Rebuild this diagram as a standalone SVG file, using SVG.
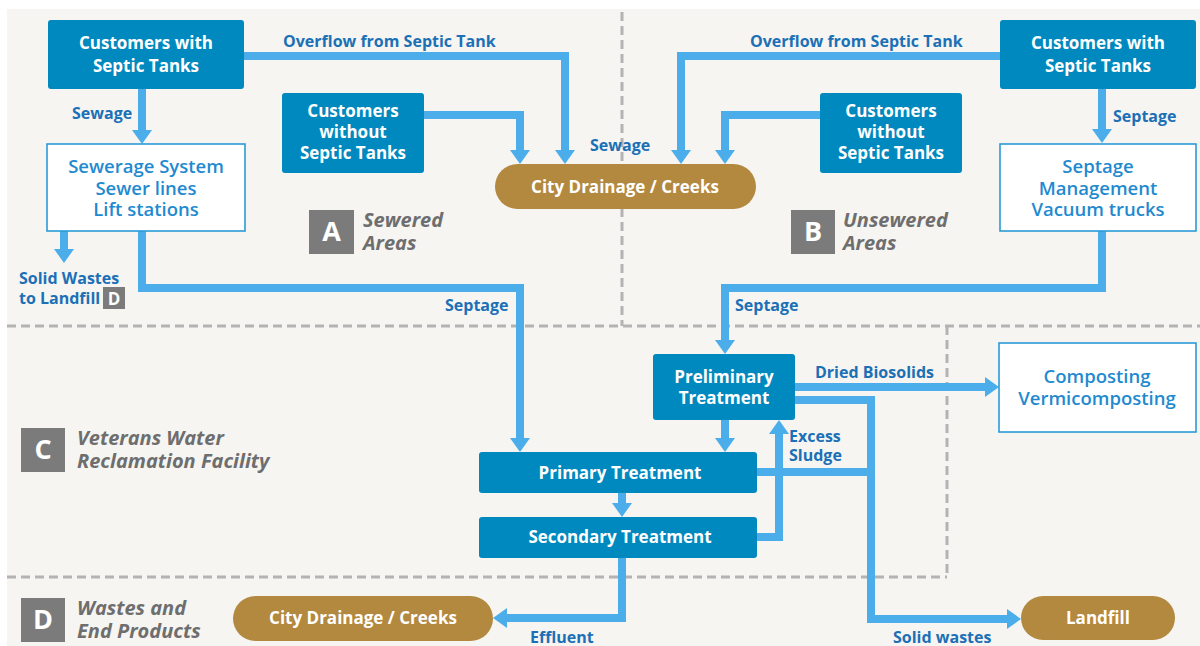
<svg xmlns="http://www.w3.org/2000/svg" width="1200" height="646" viewBox="0 0 1200 646">
<style>
.bg{fill:#f6f5f2}
.dash{stroke:#b3b3b3;stroke-width:3;stroke-dasharray:9 5;fill:none}
.dark{fill:#0089be}
.wbox{fill:#ffffff;stroke:#2a9bd8;stroke-width:1.6}
.pill{fill:#b38940}
.sq{fill:#7b7b7b}
.t{font-family:"Open Sans","Liberation Sans",sans-serif;font-weight:bold}
.wt{fill:#ffffff;font-size:17px;text-anchor:middle}
.bt{fill:#1f8ad0;font-size:18.5px;text-anchor:middle;font-weight:600}
.lbl{fill:#1b70b6;font-size:16px}
.reg{fill:#6e6e6e;font-size:20px;font-style:italic}
.sqt{fill:#ffffff;font-size:27px;text-anchor:middle}
.conn path{stroke:#4baeea;stroke-width:8;fill:none;stroke-linejoin:miter}
</style>
<defs>
<marker id="ah" viewBox="0 0 14 20" refX="2" refY="10" markerWidth="14" markerHeight="20" markerUnits="userSpaceOnUse" orient="auto">
<path d="M0,0 L14,10 L0,20 z" fill="#4baeea"/>
</marker>
</defs>
<rect class="bg" x="7" y="9" width="1193" height="637"/>
<g id="dividers">
<path class="dash" d="M622,12 V326"/>
<path class="dash" d="M7,326 H1200"/>
<path class="dash" d="M947,326 V577"/>
<path class="dash" d="M7,577 H947"/>
</g>
<g class="conn" id="connectors">
<path d="M142,89 V132" marker-end="url(#ah)"/>
<path d="M244,56 H565 V152" marker-end="url(#ah)"/>
<path d="M424,115 H520 V152" marker-end="url(#ah)"/>
<path d="M1000,56 H681 V152" marker-end="url(#ah)"/>
<path d="M820,115 H725 V152" marker-end="url(#ah)"/>
<path d="M1102,89 V131" marker-end="url(#ah)"/>
<path d="M142,231 V288 H520 V440" marker-end="url(#ah)"/>
<path d="M64,231 V251" marker-end="url(#ah)"/>
<path d="M1102,231 V288 H725 V342" marker-end="url(#ah)"/>
<path d="M725,420 V440" marker-end="url(#ah)"/>
<path d="M622,493 V505" marker-end="url(#ah)"/>
<path d="M757,537 H779 V432" marker-end="url(#ah)"/>
<path d="M757,472 H871"/>
<path d="M795,387 H987" marker-end="url(#ah)"/>
<path d="M795,400 H871 V619 H1009" marker-end="url(#ah)"/>
<path d="M622,558 V618 H505" marker-end="url(#ah)"/>
</g>
<g id="connector-labels" class="t lbl">
<text x="283" y="47">Overflow from Septic Tank</text>
<text x="750" y="47">Overflow from Septic Tank</text>
<text x="72" y="119">Sewage</text>
<text x="590" y="151">Sewage</text>
<text x="1113" y="122">Septage</text>
<text x="445" y="311">Septage</text>
<text x="735" y="311">Septage</text>
<text x="19" y="284">Solid Wastes</text>
<text x="19" y="304">to Landfill</text>
<text x="815" y="378">Dried Biosolids</text>
<text x="789" y="442">Excess</text>
<text x="789" y="461">Sludge</text>
<text x="530" y="643">Effluent</text>
<text x="893" y="643">Solid wastes</text>
</g>
<g id="landfill-ref-d">
<rect class="sq" x="103" y="287" width="22" height="22"/>
<text class="t" x="114" y="305" fill="#ffffff" font-size="17" text-anchor="middle">D</text>
</g>
<g id="n-cwst-left">
<rect class="dark" x="48" y="20" width="196" height="69" rx="3"/>
<text class="t wt" x="146" y="49">Customers with</text>
<text class="t wt" x="146" y="72">Septic Tanks</text>
</g>
<g id="n-sewerage">
<rect class="wbox" x="47" y="144" width="198" height="87"/>
<text class="t bt" x="146" y="173">Sewerage System</text>
<text class="t bt" x="146" y="195">Sewer lines</text>
<text class="t bt" x="146" y="216">Lift stations</text>
</g>
<g id="n-cwost-left">
<rect class="dark" x="282" y="93" width="142" height="80" rx="3"/>
<text class="t wt" x="353" y="117">Customers</text>
<text class="t wt" x="353" y="138">without</text>
<text class="t wt" x="353" y="159">Septic Tanks</text>
</g>
<g id="n-drainage-top">
<rect class="pill" x="495" y="164" width="261" height="45" rx="22.5"/>
<text class="t wt" x="625" y="193" font-size="17.5">City Drainage / Creeks</text>
</g>
<g id="n-cwst-right">
<rect class="dark" x="1000" y="20" width="196" height="69" rx="3"/>
<text class="t wt" x="1098" y="49">Customers with</text>
<text class="t wt" x="1098" y="72">Septic Tanks</text>
</g>
<g id="n-cwost-right">
<rect class="dark" x="820" y="93" width="142" height="80" rx="3"/>
<text class="t wt" x="891" y="117">Customers</text>
<text class="t wt" x="891" y="138">without</text>
<text class="t wt" x="891" y="159">Septic Tanks</text>
</g>
<g id="n-septage-mgmt">
<rect class="wbox" x="1000" y="144" width="196" height="87"/>
<text class="t bt" x="1098" y="173">Septage</text>
<text class="t bt" x="1098" y="195">Management</text>
<text class="t bt" x="1098" y="216">Vacuum trucks</text>
</g>
<g id="n-preliminary">
<rect class="dark" x="653" y="354" width="142" height="66" rx="3"/>
<text class="t wt" x="724" y="383">Preliminary</text>
<text class="t wt" x="724" y="404">Treatment</text>
</g>
<g id="n-primary">
<rect class="dark" x="479" y="452" width="278" height="41" rx="3"/>
<text class="t wt" x="620" y="479">Primary Treatment</text>
</g>
<g id="n-secondary">
<rect class="dark" x="479" y="517" width="278" height="41" rx="3"/>
<text class="t wt" x="620" y="543">Secondary Treatment</text>
</g>
<g id="n-composting">
<rect class="wbox" x="999" y="343" width="197" height="89"/>
<text class="t bt" x="1097" y="383">Composting</text>
<text class="t bt" x="1097" y="405">Vermicomposting</text>
</g>
<g id="n-landfill">
<rect class="pill" x="1021" y="596" width="154" height="44" rx="22"/>
<text class="t wt" x="1098" y="624">Landfill</text>
</g>
<g id="n-drainage-bottom">
<rect class="pill" x="233" y="596" width="260" height="45" rx="22.5"/>
<text class="t wt" x="363" y="624" font-size="17.5">City Drainage / Creeks</text>
</g>
<g id="region-a">
<rect class="sq" x="309" y="210" width="45" height="44"/>
<text class="t sqt" x="331.5" y="241">A</text>
<text class="t reg" x="363" y="227">Sewered</text>
<text class="t reg" x="363" y="250">Areas</text>
</g>
<g id="region-b">
<rect class="sq" x="791" y="210" width="44" height="44"/>
<text class="t sqt" x="813" y="241">B</text>
<text class="t reg" x="843" y="227">Unsewered</text>
<text class="t reg" x="843" y="250">Areas</text>
</g>
<g id="region-c">
<rect class="sq" x="21" y="428" width="44" height="44"/>
<text class="t sqt" x="43" y="459">C</text>
<text class="t reg" x="77" y="445">Veterans Water</text>
<text class="t reg" x="77" y="468">Reclamation Facility</text>
</g>
<g id="region-d">
<rect class="sq" x="21" y="598" width="44" height="44"/>
<text class="t sqt" x="43" y="629">D</text>
<text class="t reg" x="77" y="615">Wastes and</text>
<text class="t reg" x="77" y="638">End Products</text>
</g>
</svg>
